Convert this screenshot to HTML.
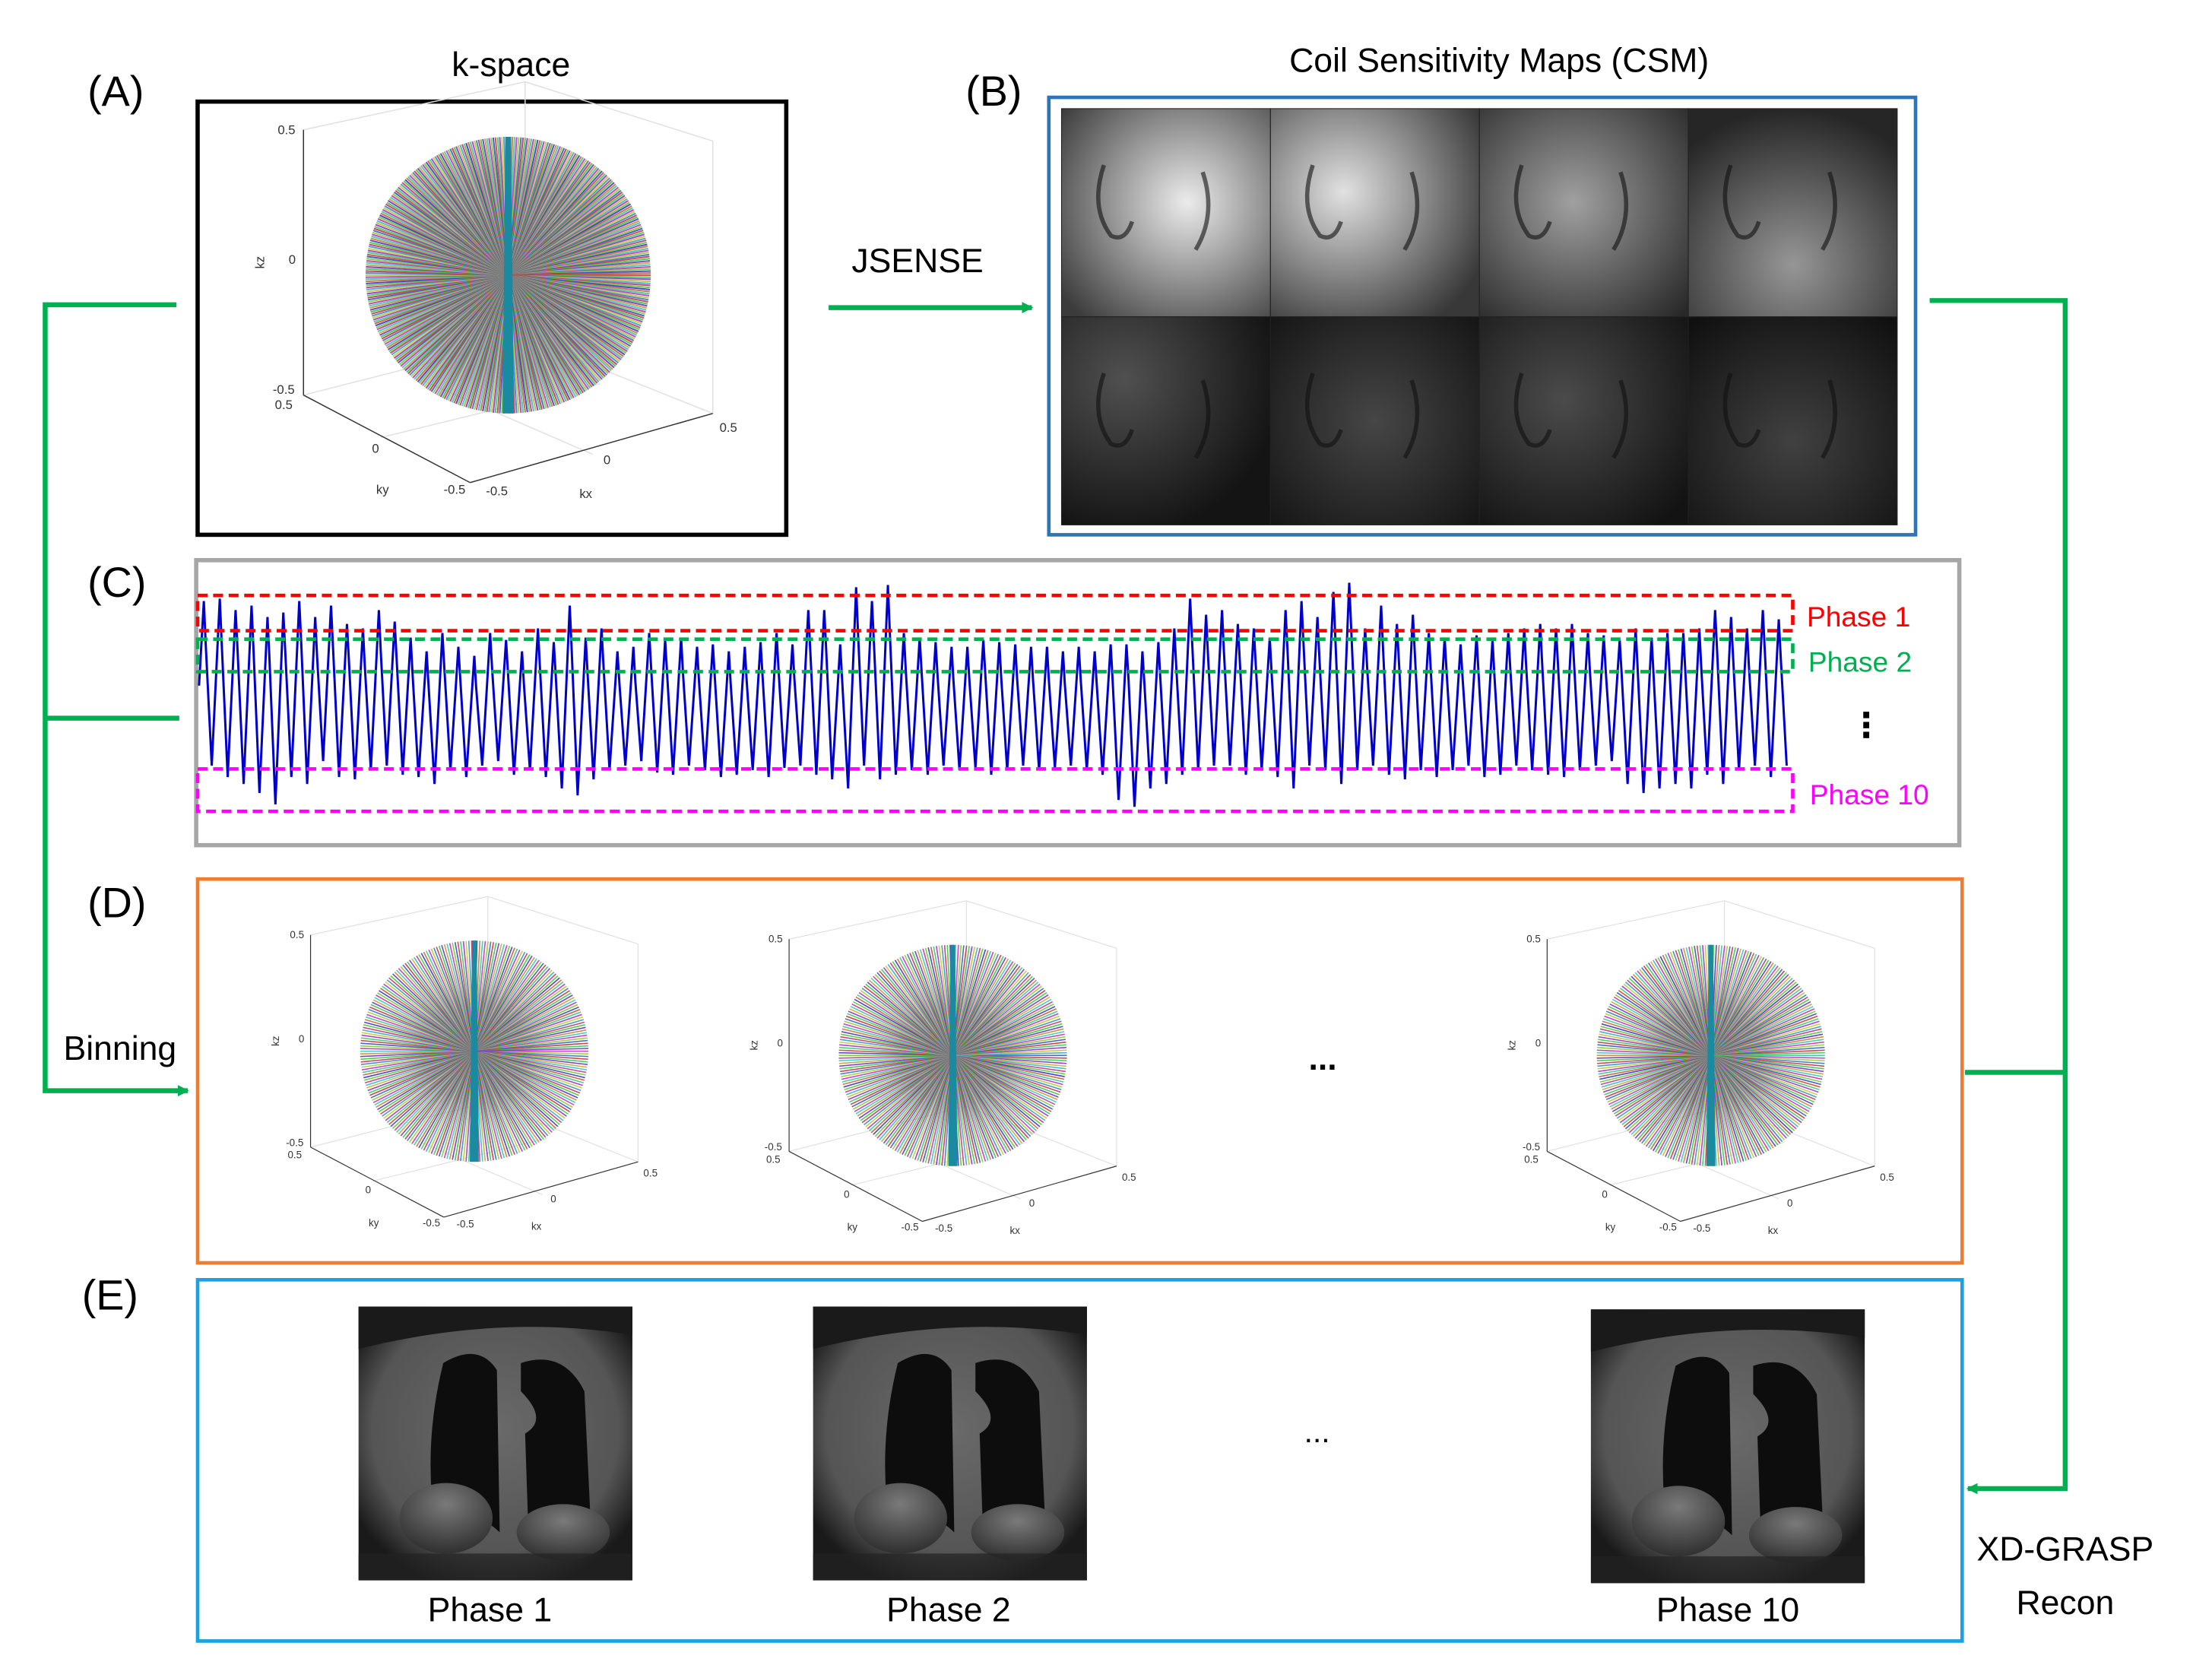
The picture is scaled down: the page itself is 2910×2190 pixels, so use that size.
<!DOCTYPE html>
<html><head><meta charset="utf-8"><style>
html,body{margin:0;padding:0;background:#fff}
svg{display:block}
text{font-family:"Liberation Sans","DejaVu Sans",sans-serif}
</style></head><body>
<svg id="fig" width="2910" height="2190" viewBox="0 0 1567 1180" preserveAspectRatio="none" xmlns="http://www.w3.org/2000/svg">
<defs>
<marker id="arr" markerWidth="8" markerHeight="8" refX="7" refY="4" orient="auto" markerUnits="userSpaceOnUse"><path d="M0,0 L8,4 L0,8 z" fill="#00b050"/></marker>
<radialGradient id="mriBody" cx="0.5" cy="0.45" r="0.6"><stop offset="0" stop-color="#6a6a6a"/><stop offset="0.75" stop-color="#555"/><stop offset="1" stop-color="#1a1a1a"/></radialGradient>
<radialGradient id="liver" cx="0.5" cy="0.3" r="0.7"><stop offset="0" stop-color="#7a7a7a"/><stop offset="1" stop-color="#303030"/></radialGradient>
</defs>
<rect width="1567" height="1180" fill="#fff"/>

<g font-size="30" fill="#000">
<text x="62" y="75">(A)</text>
<text x="684" y="75">(B)</text>
<text x="62" y="423">(C)</text>
<text x="62" y="650">(D)</text>
<text x="58" y="928">(E)</text>
</g>
<text x="362" y="54" font-size="24" text-anchor="middle">k-space</text>
<text x="1062" y="51" font-size="24" text-anchor="middle">Coil Sensitivity Maps (CSM)</text>
<text x="650" y="193" font-size="24" text-anchor="middle">JSENSE</text>
<text x="85" y="751" font-size="24" text-anchor="middle">Binning</text>
<text x="1463" y="1106" font-size="24" text-anchor="middle">XD-GRASP</text>
<text x="1463" y="1144" font-size="24" text-anchor="middle">Recon</text>

<g stroke="#00b050" stroke-width="3.5" fill="none">
<path d="M125,216 H32 V773 H133" marker-end="url(#arr)"/>
<path d="M32,509 H127"/>
<path d="M587,218 H731" marker-end="url(#arr)"/>
<path d="M1367,213 H1463 V1055 H1394" marker-end="url(#arr)"/>
<path d="M1392,760 H1463"/>
</g>

<rect x="140" y="72" width="417" height="307" fill="#fff" stroke="#000" stroke-width="3"/>
<g id="sphereA"></g>

<rect x="743" y="69" width="614" height="310" fill="#fff" stroke="#2e75b6" stroke-width="2.5"/>
<g id="csm"></g>

<rect x="139" y="397" width="1249" height="202" fill="#fff" stroke="#a6a6a6" stroke-width="3"/>
<g id="signal"></g>
<rect x="140" y="422" width="1130" height="25" fill="none" stroke="#ff0000" stroke-width="2.5" stroke-dasharray="7,4"/>
<rect x="140" y="453" width="1130" height="23" fill="none" stroke="#00b050" stroke-width="2.5" stroke-dasharray="7,4"/>
<rect x="140" y="545" width="1130" height="30" fill="none" stroke="#ff00ff" stroke-width="2.5" stroke-dasharray="7,4"/>
<text x="1280" y="444" font-size="20" fill="#ff0000">Phase 1</text>
<text x="1281" y="476" font-size="20" fill="#00b050">Phase 2</text>
<text x="1322" y="522" font-size="24" text-anchor="middle" font-weight="bold">⋮</text>
<text x="1282" y="570" font-size="20" fill="#ff00ff">Phase 10</text>

<rect x="140" y="623" width="1250" height="272" fill="#fff" stroke="#ed7d31" stroke-width="2.5"/>
<g id="sphereD"></g>
<text x="937" y="758" font-size="24" text-anchor="middle" font-weight="bold">...</text>

<rect x="140" y="907" width="1250" height="256" fill="#fff" stroke="#1ba1e2" stroke-width="2.5"/>
<g id="mri"></g>
<text x="933" y="1022" font-size="22" text-anchor="middle">...</text>
<text x="347" y="1149" font-size="24" text-anchor="middle">Phase 1</text>
<text x="672" y="1149" font-size="24" text-anchor="middle">Phase 2</text>
<text x="1224" y="1149" font-size="24" text-anchor="middle">Phase 10</text>
</svg>
<script>
const peaks = [0.92,0.93,0.88,0.9,0.85,0.87,0.92,0.85,0.9,0.82,0.8,0.88,0.83,0.76,0.7,0.78,0.72,0.68,0.78,0.75,0.7,0.8,0.74,0.9,0.76,0.8,0.7,0.72,0.78,0.75,0.76,0.72,0.73,0.7,0.72,0.74,0.78,0.73,0.88,0.88,0.73,0.98,0.92,0.99,0.78,0.76,0.74,0.72,0.72,0.75,0.74,0.73,0.72,0.72,0.7,0.72,0.7,0.73,0.73,0.7,0.74,0.8,0.93,0.86,0.88,0.82,0.8,0.76,0.88,0.92,0.85,0.96,1.0,0.8,0.9,0.82,0.86,0.78,0.76,0.73,0.77,0.75,0.78,0.8,0.82,0.8,0.82,0.78,0.77,0.75,0.8,0.76,0.78,0.78,0.8,0.88,0.85,0.8,0.88,0.84];
const troughs = [0.2,0.15,0.12,0.08,0.03,0.15,0.12,0.22,0.15,0.14,0.18,0.2,0.16,0.15,0.12,0.18,0.15,0.2,0.22,0.16,0.18,0.15,0.1,0.07,0.14,0.18,0.2,0.22,0.17,0.16,0.2,0.18,0.15,0.16,0.18,0.15,0.19,0.2,0.16,0.14,0.1,0.2,0.14,0.16,0.18,0.16,0.2,0.18,0.19,0.16,0.18,0.2,0.18,0.19,0.2,0.18,0.16,0.05,0.02,0.1,0.12,0.16,0.18,0.2,0.2,0.16,0.18,0.15,0.1,0.2,0.18,0.12,0.18,0.2,0.16,0.14,0.18,0.15,0.18,0.2,0.15,0.16,0.2,0.18,0.16,0.15,0.18,0.2,0.22,0.12,0.08,0.1,0.12,0.1,0.16,0.12,0.18,0.2,0.15,0.2];
const tickLabels = ["0.5","0","-0.5"];

const NS="http://www.w3.org/2000/svg";
function mk(tag, attrs, parent){const e=document.createElementNS(NS,tag);for(const k in attrs)e.setAttribute(k,attrs[k]);parent.appendChild(e);return e;}

const sigX0=141, sigX1=1268, sigYtop=413, sigYbot=575;
function xScale(t){return sigX0+(sigX1-sigX0)*t/peaks.length;}
function yScale(v){return sigYbot-(sigYbot-sigYtop)*v;}
(function(){
  const g=document.getElementById('signal');
  let d='M'+xScale(0)+','+yScale(0.55);
  for(let i=0;i<peaks.length;i++){
    d+=' L'+xScale(i+0.3).toFixed(1)+','+yScale(peaks[i]).toFixed(1);
    d+=' L'+xScale(i+0.42).toFixed(1)+','+yScale(peaks[i]*0.8).toFixed(1);
    d+=' L'+xScale(i+0.8).toFixed(1)+','+yScale(troughs[i]).toFixed(1);
  }
  const p=mk('path',{d:d,fill:'none',stroke:'#0000cc','stroke-width':1.6},g);
  
  
})();

function drawSphere(g, cx, cy, s, hueOff, nLines){
  const grp=mk('g',{transform:'translate('+cx+','+cy+') scale('+s+') translate(-360,-195)'},g);
  
  
  const lg='#e0e0e0';
  [[215,92,372,58],[372,58,505,100],[505,100,505,293],[372,58,372,240],[215,280,372,240],[372,240,505,293],[270,310,425,272],[420,322,300,270]].forEach(l=>mk('line',{x1:l[0],y1:l[1],x2:l[2],y2:l[3],stroke:lg,'stroke-width':0.8},grp));
  [[215,92,215,280],[215,280,333,342],[333,342,505,293]].forEach(l=>mk('line',{x1:l[0],y1:l[1],x2:l[2],y2:l[3],stroke:'#333','stroke-width':0.8},grp));
  const N=nLines;
  for(let i=0;i<N;i++){
    const a=i*2*Math.PI/N;
    const h=(i*137.5+hueOff)%360;
    mk('line',{x1:360,y1:195,x2:(360+101*Math.cos(a)).toFixed(1),y2:(195+98*Math.sin(a)).toFixed(1),stroke:'hsl('+h+',60%,50%)','stroke-width':1.1,'stroke-opacity':0.9},grp);
  }
  mk('path',{d:'M358,97 L362,97 L364,293 L356,293 z',fill:'#1a8aa0'},grp);
  const lbl=[[203,95,tickLabels[0]],[207,187,tickLabels[1]],[201,279,tickLabels[2]],[201,290,tickLabels[0]],[266,321,tickLabels[1]],[322,350,tickLabels[2]],[352,351,tickLabels[2]],[430,329,tickLabels[1]],[516,306,tickLabels[0]],[271,350,'ky'],[415,353,'kx']];
  lbl.forEach(t=>{const e=mk('text',{x:t[0],y:t[1],'font-size':9,'text-anchor':'middle',fill:'#333'},grp);e.textContent=t[2];});
  const kz=mk('text',{x:187,y:186,'font-size':9,'text-anchor':'middle',fill:'#333',transform:'rotate(-90 187 186)'},grp);kz.textContent='kz';
}
drawSphere(document.getElementById('sphereA'),360,195,1,0,420);
const D=document.getElementById('sphereD');
drawSphere(D,336,745,0.8,300,260);
drawSphere(D,675,748,0.8,220,260);
drawSphere(D,1212,748,0.8,160,260);

(function(){
  const g=document.getElementById('csm');
  const bright=[[0.6,0.45,235],[0.35,0.4,225],[0.45,0.45,160],[0.5,0.75,150],[0.3,0.3,80],[0.5,0.5,70],[0.4,0.4,75],[0.5,0.6,65]];
  const defs=document.querySelector('defs');
  for(let i=0;i<8;i++){
    const c=i%4, r=Math.floor(i/4);
    const x=752+c*148, y=77+r*147.5;
    const id='csmg'+i, b=bright[i];
    const rg=mk('radialGradient',{id:id,cx:b[0],cy:b[1],r:0.75},defs);
    const v=b[2], lo=Math.round(v*0.25);
    mk('stop',{offset:0,'stop-color':'rgb('+v+','+v+','+v+')'},rg);
    mk('stop',{offset:1,'stop-color':'rgb('+lo+','+lo+','+lo+')'},rg);
    const t=mk('rect',{x:x,y:y,width:148,height:147.5,fill:'url(#'+id+')',stroke:'#222','stroke-width':0.6},g);
    
    
    mk('path',{d:'M'+(x+30)+','+(y+40)+' q-10,30 5,50 q10,5 15,-10',fill:'none',stroke:'#111','stroke-width':3,'stroke-opacity':0.6},g);
    mk('path',{d:'M'+(x+100)+','+(y+45)+' q10,30 -5,55',fill:'none',stroke:'#111','stroke-width':3,'stroke-opacity':0.6},g);
  }
})();

(function(){
  const g=document.getElementById('mri');
  [[254,926],[576,926],[1127,928]].forEach((p,k)=>{
    const x=p[0], y=p[1], w=194, h=194;
    const grp=mk('g',{transform:'translate('+x+','+y+')'},g);
    
    
    mk('rect',{x:0,y:0,width:w,height:h,fill:'url(#mriBody)'},grp);
    mk('path',{d:'M0,0 H194 V20 Q100,5 0,30 z',fill:'#1a1a1a'},grp);
    mk('path',{d:'M60,40 Q85,25 98,45 L100,160 Q80,140 55,160 Q45,100 60,40 z',fill:'#0d0d0d'},grp);
    mk('path',{d:'M115,40 Q145,30 160,60 L165,165 Q140,150 120,150 L118,90 Q135,80 115,60 z',fill:'#0d0d0d'},grp);
    mk('ellipse',{cx:62,cy:150,rx:33,ry:25,fill:'url(#liver)'},grp);
    mk('ellipse',{cx:145,cy:160,rx:33,ry:20,fill:'url(#liver)'},grp);
    mk('rect',{x:0,y:175,width:w,height:19,fill:'#222','fill-opacity':0.7},grp);
  });
})();
</script>
</body></html>
